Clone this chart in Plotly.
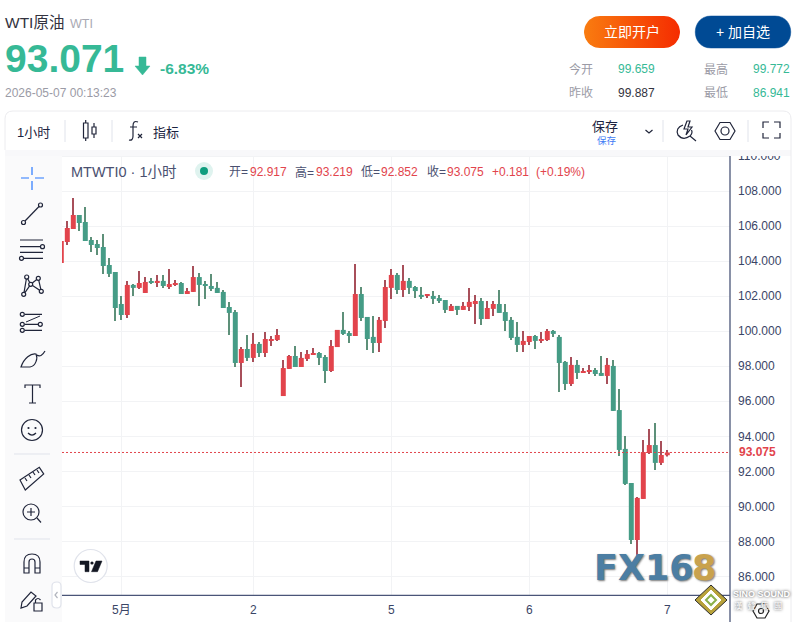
import numpy as np
import plotly.graph_objects as go

# prices
open_prices = [103.90, 105.10, 105.85, 106.65, 106.25, 105.22, 104.99, 104.82, 103.79, 103.39,
               101.56, 100.93, 102.65, 102.48, 102.19, 102.82, 102.76, 102.88, 102.53, 102.70,
               102.76, 102.13, 102.25, 103.10, 102.70, 102.59, 102.48, 102.25, 101.39, 101.10,
               98.19, 98.99, 98.48, 99.28, 98.76, 99.50, 99.50, 96.30, 97.85, 98.59,
               97.96, 98.42, 98.65, 98.76, 98.53, 97.73, 99.10, 100.08, 99.90, 99.73,
               102.13, 100.82, 99.68, 99.33, 100.59, 102.48, 103.22, 102.36, 102.88, 102.53,
               102.08, 102.02, 102.02, 101.90, 101.79, 101.16, 101.45, 101.22, 101.39, 101.56,
               101.73, 100.70, 101.28, 101.56, 101.10, 100.65, 99.68, 99.22, 99.39, 99.73,
               99.50, 99.50, 100.02, 99.68, 98.25, 96.99, 98.08, 97.62, 97.73, 97.79,
               97.62, 97.45, 98.02, 95.50, 93.28, 91.33, 88.08, 90.42, 93.05, 93.50,
               92.48, 92.917]
high_prices = [105.50, 106.30, 107.62, 106.65, 107.10, 105.39, 105.22, 105.56, 104.19, 103.39,
               102.02, 102.88, 102.70, 103.45, 103.10, 103.05, 103.22, 103.22, 103.56, 102.93,
               102.82, 102.48, 103.73, 103.33, 102.88, 103.28, 102.82, 102.36, 101.68, 101.22,
               99.10, 99.79, 99.90, 99.39, 99.96, 99.73, 100.13, 98.36, 98.65, 99.16,
               98.82, 98.93, 99.05, 98.82, 98.65, 99.50, 100.08, 101.10, 100.02, 103.85,
               102.53, 100.82, 100.88, 100.82, 102.93, 103.56, 103.33, 103.79, 103.05, 102.59,
               102.53, 102.13, 102.30, 102.08, 101.79, 101.56, 101.45, 101.68, 102.48, 102.08,
               101.90, 101.73, 101.73, 102.36, 101.56, 100.82, 100.53, 100.02, 99.73, 99.79,
               99.96, 100.13, 100.08, 99.79, 98.30, 98.53, 98.36, 97.90, 98.08, 97.90,
               98.59, 98.48, 98.36, 96.70, 94.02, 91.33, 90.53, 93.79, 94.42, 94.76,
               93.73, 93.219]
low_prices = [103.80, 104.93, 105.85, 105.73, 105.16, 104.53, 104.36, 103.28, 103.10, 100.59,
              100.65, 100.76, 102.02, 102.42, 102.19, 102.70, 102.53, 102.48, 102.42, 102.59,
              102.13, 102.13, 102.25, 101.45, 101.85, 102.30, 102.19, 101.33, 99.79, 97.96,
              96.82, 98.30, 98.25, 98.53, 98.53, 99.16, 99.45, 96.30, 97.85, 97.96,
              97.96, 98.30, 98.65, 98.08, 97.05, 97.67, 99.10, 99.79, 99.33, 99.73,
              100.59, 98.93, 98.76, 98.82, 100.19, 101.85, 102.13, 101.96, 102.13, 101.90,
              101.85, 101.90, 101.56, 101.62, 101.05, 101.16, 100.93, 101.22, 101.16, 100.42,
              100.36, 100.70, 100.88, 101.05, 100.02, 99.50, 98.82, 98.82, 99.22, 98.99,
              99.33, 99.45, 99.68, 96.53, 96.65, 96.88, 97.28, 97.62, 97.56, 97.45,
              97.45, 96.99, 95.45, 92.88, 91.22, 87.85, 86.94, 90.42, 92.99, 92.08,
              92.36, 92.852]
close_prices = [105.16, 105.90, 106.65, 106.19, 105.16, 104.93, 104.76, 103.73, 103.28, 101.33,
                100.93, 102.65, 102.48, 102.76, 102.82, 102.76, 102.88, 102.59, 102.70, 102.76,
                102.13, 102.30, 103.10, 102.65, 102.59, 102.42, 102.19, 101.33, 101.05, 98.19,
                98.99, 98.48, 99.28, 98.76, 99.56, 99.56, 99.79, 97.90, 98.59, 97.96,
                98.48, 98.70, 98.76, 98.48, 97.73, 99.16, 100.08, 99.85, 99.73, 102.13,
                100.76, 99.56, 99.33, 100.65, 102.53, 103.22, 102.36, 102.88, 102.48, 102.30,
                101.96, 102.08, 101.85, 101.73, 101.22, 101.45, 101.22, 101.45, 101.68, 101.73,
                100.70, 101.33, 101.56, 101.05, 100.59, 99.62, 99.22, 99.45, 99.73, 99.45,
                99.56, 100.02, 99.85, 98.19, 96.99, 98.08, 97.62, 97.73, 97.79, 97.56,
                97.45, 98.08, 95.45, 93.22, 91.28, 88.08, 90.48, 93.10, 93.50, 92.48,
                92.93, 93.075]
candle_index = list(range(len(close_prices)))

date_positions = [10, 32, 55, 78, 101]
date_labels = ["5月", "2", "5", "6", "7"]
price_ticks = list(range(86, 112, 2))
last_close = close_prices[-1]

W, H = 800, 622
FONT = "Liberation Sans, Arial, Noto Sans CJK SC"
GREEN = "#36b996"
INK = "#20253a"
GREY = "#9b9ba6"
AXIS = "#4a5578"
LABEL = "#3a4566"
RED = "#e2444c"
BODY_GREEN = "#459c86"

fig = go.Figure()

# candles as two overlaid bar traces: go.Candlestick ties wick and body colour together and its boxes are too narrow
up = [c >= o for o, c in zip(open_prices, close_prices)]
wick_colors = ["#a84f5a" if u else "#5d9079" for u in up]
body_colors = [RED if u else BODY_GREEN for u in up]
fig.add_trace(go.Bar(x=candle_index, y=[h - l for h, l in zip(high_prices, low_prices)], base=low_prices,
                     width=0.2, marker=dict(color=wick_colors, line=dict(width=0)), hoverinfo="skip"))
fig.add_trace(go.Bar(x=candle_index, y=[c - o for o, c in zip(open_prices, close_prices)], base=open_prices,
                     width=0.83, marker=dict(color=body_colors, line=dict(width=0)), hoverinfo="skip"))


# rounded button outline for the gradient fill
def pill(x0, y0, x1, y1):
    r = (y1 - y0) / 2
    t = np.linspace(-np.pi / 2, np.pi / 2, 24)
    xs = np.r_[x1 - r + r * np.cos(t), x0 + r - r * np.cos(t)]
    ys = np.r_[y0 + r + r * np.sin(t), y0 + r - r * np.sin(t)]
    return xs, ys


bx, by = pill(584, 16, 680, 48)
fig.add_trace(go.Scatter(x=bx, y=by, xaxis="x2", yaxis="y2", mode="lines", line=dict(width=0), fill="toself",
                         fillgradient=dict(type="horizontal", colorscale=[[0, "#f97c10"], [1, "#f52c00"]]),
                         hoverinfo="skip"))


def box(x0, y0, x1, y1, fill="rgba(0,0,0,0)", line=None, width=1, layer="above"):
    fig.add_shape(type="rect", x0=x0, y0=y0, x1=x1, y1=y1, xref="x2", yref="y2", fillcolor=fill, layer=layer,
                  line=dict(color=line or "rgba(0,0,0,0)", width=width if line else 0))


def icon(path, color=INK, width=1.2, fill="rgba(0,0,0,0)"):
    fig.add_shape(type="path", path=path, xref="x2", yref="y2", fillcolor=fill, layer="above",
                  line=dict(color=color, width=width))


def ring(cx, cy, r, color=INK, width=1.2, fill="rgba(0,0,0,0)"):
    fig.add_shape(type="circle", x0=cx - r, x1=cx + r, y0=cy - r, y1=cy + r, xref="x2", yref="y2", layer="above",
                  fillcolor=fill, line=dict(color=color, width=width))


def txt(x, y, s, size=12, color=INK, anchor="left", bold=False, font=FONT, shadow=None, bg=None):
    fig.add_annotation(x=x, y=y, xref="x2", yref="y2", text=f"<b>{s}</b>" if bold else s, showarrow=False,
                       xanchor=anchor, yanchor="middle", borderpad=0, borderwidth=0, bgcolor=bg,
                       font=dict(family=font, size=size, color=color, shadow=shadow or "none"))


# page panels
box(5, 150, 62, 622, fill="#fafafb", layer="below")
box(5, 150, 791, 156, fill="#f8f8fa")
box(5, 111, 791, 150, fill="#ffffff")
box(0, 100, 800, 111, fill="#ffffff")
icon("M 5 150 L 5 119 Q 5 111 13 111 L 783 111 Q 791 111 791 119 L 791 622", color="#ececef", width=1)
fig.add_shape(type="line", x0=730, x1=730, y0=156, y1=622, xref="x2", yref="y2", layer="above",
              line=dict(color=AXIS, width=1.3))
fig.add_shape(type="line", x0=62, x1=730, y0=595.3, y1=595.3, xref="x2", yref="y2", layer="above",
              line=dict(color=AXIS, width=1.3))
# last price line
fig.add_shape(type="line", x0=62 / W, x1=730 / W, y0=last_close, y1=last_close, xref="paper", yref="y",
              layer="above", line=dict(color=RED, width=1, dash="2px,2px"))

# header
txt(5, 22, "WTI原油", 15.5, "#333340")
txt(70, 24, "WTI", 12.5, "#a9a9b3")
txt(5, 58, "93.071", 39, GREEN, bold=True)
icon("M 139 57 L 146 57 L 146 66 L 150 66 L 142.500 75 L 135 66 L 139 66 Z", color=GREEN, width=0.5, fill=GREEN)
txt(160, 68, "-6.83%", 15.5, GREEN, bold=True)
txt(5, 93, "2026-05-07 00:13:23", 12, GREY)

txt(632, 32, "立即开户", 14, "#ffffff", "center")
icon("M 711 16 L 775 16 C 796 16 796 48 775 48 L 711 48 C 690 48 690 16 711 16 Z", color="#004a94", width=0.5, fill="#004a94")
txt(743, 32, "+ 加自选", 14, "#ffffff", "center")

for x, y, s in [(569, 69, "今开"), (704, 69, "最高"), (569, 93, "昨收"), (704, 93, "最低")]:
    txt(x, y, s, 12, GREY)
txt(618, 69, "99.659", 12, GREEN)
txt(753, 69, "99.772", 12, GREEN)
txt(618, 93, "99.887", 12, "#333340")
txt(753, 93, "86.941", 12, GREEN)

# top toolbar
txt(17, 132, "1小时", 13, "#1c2340")
for x in (65, 112, 663, 748):
    fig.add_shape(type="line", x0=x, x1=x, y0=120, y1=142, xref="x2", yref="y2", layer="above",
                  line=dict(color="#e0e3eb", width=1))
icon("M 83.500 123 L 88 123 L 88 138 L 83.500 138 Z M 85.700 120 L 85.700 123 M 85.700 138 L 85.700 141")
icon("M 92 127 L 96 127 L 96 134 L 92 134 Z M 94 123 L 94 127 M 94 134 L 94 138")
icon("M 138 122 Q 133 120 133 126 L 133 136 Q 133 141 129 140 M 130 127 L 137 127 M 138 134 L 142 138 M 142 134 L 138 138")
txt(153, 132, "指标", 13, "#1c2340")
txt(592, 126, "保存", 13, "#1c2340")
txt(597, 140, "保存", 9.5, "#3f7cf5")
icon("M 645.500 130 L 649 133 L 652.500 130")
icon("M 683 125 Q 675 128 678 135 Q 683 141 690 136 L 696 141 M 690 136 Q 693 133 691.500 130 M 687 121 L 684 129 L 688 129 L 686 135 L 692 127 L 688 127 L 690 121 Z")
icon("M 715 131 L 720 122.500 L 730 122.500 L 735 131 L 730 139.500 L 720 139.500 Z")
ring(725, 131, 4)
icon("M 763 128 L 763 122 L 769 122 M 774 122 L 780 122 L 780 128 M 780 133 L 780 138 L 774 138 M 769 138 L 763 138 L 763 133")

# left drawing tools
icon("M 21 178 L 29 178 M 35 178 L 44 178 M 32 167 L 32 175 M 32 181 L 32 190", color="#2979ff")
icon("M 25 221 L 39 206.500")
ring(23.5, 222.5, 2)
ring(40.5, 205, 2)
icon("M 20 240 L 43 240 M 20 246.700 L 40 246.700 M 20 252.300 L 43 252.300 M 24 258.300 L 43 258.300")
ring(42.5, 246.7, 2)
ring(21.5, 258.3, 2)
icon("M 23.700 294.300 L 26.700 277 L 30.700 284.300 L 38.300 278.300 L 41.300 291.300 L 30.700 284.300 L 23.700 294.300")
for cx, cy in [(26.7, 277), (38.3, 278.3), (30.7, 284.3), (23.7, 294.3), (41.3, 291.3)]:
    ring(cx, cy, 2, fill="#fafafb")
icon("M 25 314.300 L 42 314.300 M 25 324.300 L 38 324.300 M 25 330.300 L 42 330.300")
icon("M 26 322 L 40 316", width=1)
for cx, cy in [(22.3, 314.3), (22.3, 324.3), (40.3, 324.3), (22.3, 330.3)]:
    ring(cx, cy, 2)
icon("M 21 367 C 24 358 31 353 36 354 C 38 358 36 366 30 367 Z M 37 355 Q 41 358 45 351")
icon("M 25 388 L 25 385 L 40 385 L 40 388 M 32.500 385 L 32.500 403 M 29 403 L 36 403")
ring(32, 430, 10.5)
ring(28.5, 428, 0.5)
ring(35.5, 428, 0.5)
icon("M 28 433 Q 32 437 36 433")
fig.add_shape(type="line", x0=14, x1=50, y0=454, y1=454, xref="x2", yref="y2", layer="above",
              line=dict(color="#e0e3eb", width=1))
icon("M 20 480 L 39.300 467.300 L 43.700 474 L 25.300 490 Z M 25 478 L 27 481 M 29 475 L 31 478 M 33 472 L 35 475 M 37 470 L 39 473")
ring(31, 512, 8)
icon("M 37 518 L 41 522.500 M 31 508 L 31 516 M 27 512 L 35 512")
fig.add_shape(type="line", x0=14, x1=50, y0=539, y1=539, xref="x2", yref="y2", layer="above",
              line=dict(color="#e0e3eb", width=1))
icon("M 24 573 L 24 562 Q 24 554 32 554 Q 40 554 40 562 L 40 573 L 35 573 L 35 562 Q 35 559 32 559 Q 29 559 29 562 L 29 573 Z M 24 568 L 29 568 M 35 568 L 40 568")
icon("M 21 608 L 22 602 L 31 592 L 36 596 L 27 606 Z")
icon("M 34 603 L 42 603 L 42 611 L 34 611 Z M 35.500 603 L 35.500 600 Q 38 597 40.500 600")
icon("M 57 582 Q 61 582 61 586 L 61 604 Q 61 608 57 608 Q 52 608 52 604 L 52 586 Q 52 582 57 582 Z", color="#e0e3eb", fill="#ffffff")
icon("M 57.500 592 L 55 595 L 57.500 598", color="#b2b5be")

# chart legend row
txt(71, 172, "MTWTI0 · 1小时", 14.5, "#4a5070")
ring(204, 171, 9, color="#dff3ef", fill="#dff3ef", width=0)
ring(204, 171, 4, color="#0f9d7e", fill="#0f9d7e", width=0)
for x, s in [(229, "开="), (295, "高="), (361, "低="), (427, "收=")]:
    txt(x, 172, s, 12, "#4a5070")
for x, s in [(250, "92.917"), (316, "93.219"), (381, "92.852"), (447, "93.075"), (492, "+0.181"), (536, "(+0.19%)")]:
    txt(x, 172, s, 12, RED)
# last price tag on the axis
fig.add_annotation(x=737 / W, y=last_close, xref="paper", yref="y", text="<b>93.075</b>", showarrow=False,
                   xanchor="left", yanchor="middle", bgcolor="#ffffff", borderpad=1,
                   font=dict(family=FONT, size=12, color=RED))

# TradingView badge
ring(90.7, 566, 16.5, color="#e0e3eb", fill="#ffffff")
icon("M 80 561 L 89 561 L 89 571.700 L 85 571.700 L 85 564.500 L 80 564.500 Z", color="#131722", width=0.5, fill="#131722")
ring(92, 563, 1.6, color="#131722", fill="#131722", width=0)
icon("M 96 561 L 102 561 L 97.500 571.700 L 91.500 571.700 Z", color="#131722", width=0.5, fill="#131722")

# watermarks
txt(594, 568, "FX16", 35, "#4c7ea3", bold=True, font="DejaVu Sans", shadow="1px 1px 2px #777777")
txt(692, 568, "8", 35, "#c9a24d", bold=True, font="DejaVu Sans", shadow="1px 1px 2px #777777")
icon("M 711 585 L 727 600 L 711 615 L 695 600 Z", color="#2c2c2c", width=1, fill="#b8a23a")
icon("M 711 590 L 721 600 L 711 610 L 701 600 Z", color="#ffffff", width=1, fill="#ffffff")
icon("M 711 595 L 716 600 L 711 605 L 706 600 Z", color="#8ab04a", width=2)
txt(733, 594, "SINO SOUND", 9, "#ffffff", bold=True, shadow="0 0 3px #333333")
txt(734, 606, "漢  聲  集  團", 8.5, "#ffffff", shadow="0 0 3px #333333")
icon("M 753 611 L 757 604 L 765 604 L 769 611 L 765 618 L 757 618 Z", color="#222222", width=1.2)
ring(761, 611, 2.5, color="#222222")

fig.update_layout(
    width=W, height=H, margin=dict(l=0, r=0, t=0, b=0), showlegend=False, barmode="overlay",
    paper_bgcolor="#ffffff", plot_bgcolor="rgba(0,0,0,0)", font=dict(family=FONT),
    xaxis=dict(domain=[62 / W, 730 / W], range=[0.117, 111.45], tickmode="array", tickvals=date_positions,
               ticktext=date_labels, showgrid=True, gridcolor="#f2f3f5", gridwidth=1.3, zeroline=False,
               ticks="", ticklabelstandoff=6, tickfont=dict(size=12, color=LABEL), anchor="y", automargin=False),
    yaxis=dict(domain=[(H - 595.3) / H, (H - 155) / H], range=[84.914, 110.074], side="right", tickmode="array",
               tickvals=price_ticks, tickformat=".3f", showgrid=True, gridcolor="#f2f3f5", gridwidth=1.3,
               zeroline=False, ticks="", ticklabelstandoff=7, tickfont=dict(size=12, color=LABEL), anchor="x",
               automargin=False),
    xaxis2=dict(domain=[0, 1], range=[0, W], visible=False, anchor="y2", automargin=False),
    yaxis2=dict(domain=[0, 1], range=[H, 0], visible=False, anchor="x2", automargin=False),
)

fig.write_html("out.html", config={"displayModeBar": False},
               post_script="document.body.style.margin='0';document.body.style.overflow='hidden';")
